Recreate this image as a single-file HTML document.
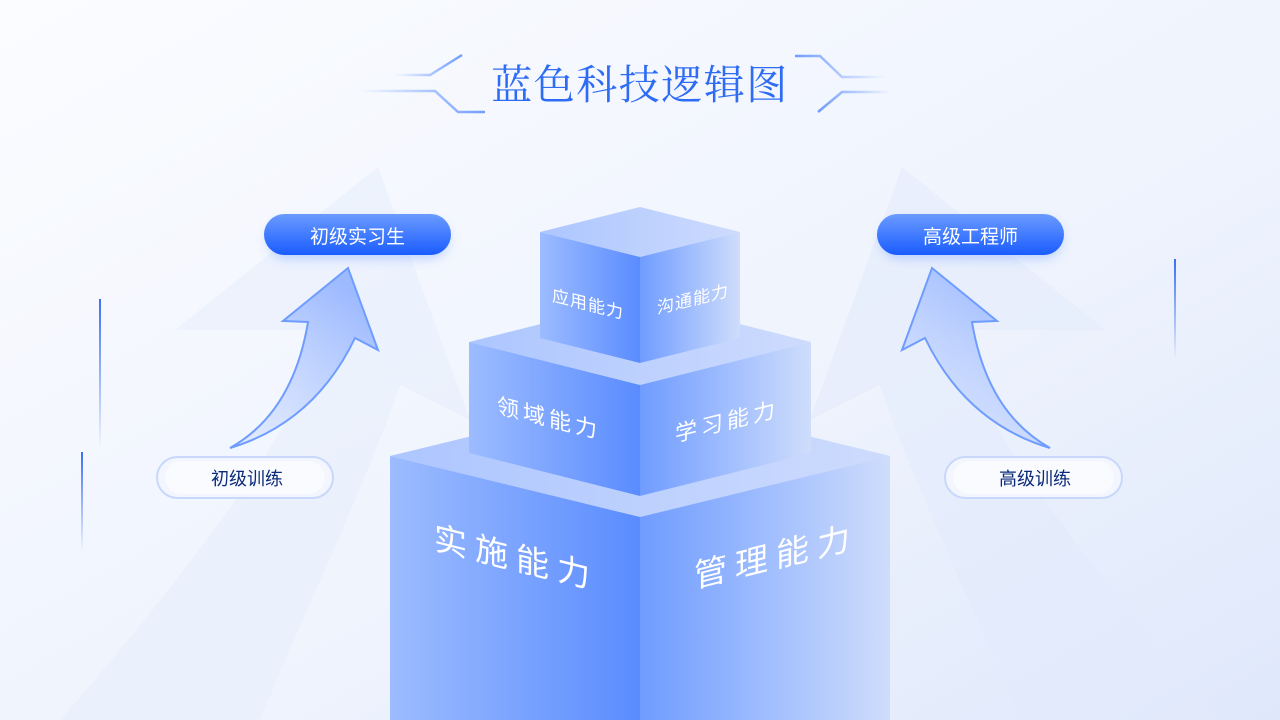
<!DOCTYPE html>
<html><head><meta charset="utf-8"><style>
html,body{margin:0;padding:0;width:1280px;height:720px;overflow:hidden;background:#f3f6fd}
svg{display:block}
text{font-family:"Liberation Sans","Noto Sans CJK SC",sans-serif}
</style></head><body>
<svg width="1280" height="720" viewBox="0 0 1280 720" xmlns="http://www.w3.org/2000/svg">
<defs>
<linearGradient id="bg" x1="0" y1="0" x2="1" y2="1"><stop offset="0" stop-color="#fbfcff"/><stop offset="0.6" stop-color="#eef3fd"/><stop offset="1" stop-color="#dfe8fb"/></linearGradient>
<linearGradient id="lf" x1="0" y1="0" x2="1" y2="0"><stop offset="0" stop-color="#9dbcff"/><stop offset="1" stop-color="#5a8cff"/></linearGradient>
<linearGradient id="rf" x1="0" y1="0" x2="1" y2="0"><stop offset="0" stop-color="#6f9cff"/><stop offset="1" stop-color="#cfddfc"/></linearGradient>
<linearGradient id="tf" x1="0" y1="0" x2="1" y2="0"><stop offset="0" stop-color="#adc6ff"/><stop offset="1" stop-color="#cddbfd"/></linearGradient>
<linearGradient id="pill" x1="0" y1="0" x2="0" y2="1"><stop offset="0" stop-color="#6b9bff"/><stop offset="1" stop-color="#1a5cff"/></linearGradient>
<linearGradient id="arr" x1="0" y1="1" x2="0.6" y2="0"><stop offset="0" stop-color="#dbe6ff" stop-opacity="0.6"/><stop offset="1" stop-color="#9dbaff"/></linearGradient>
<linearGradient id="vl" x1="0" y1="0" x2="0" y2="1"><stop offset="0" stop-color="#3a70f0"/><stop offset="1" stop-color="#3a70f0" stop-opacity="0"/></linearGradient>
<linearGradient id="hl" x1="0" y1="0" x2="1" y2="0"><stop offset="0" stop-color="#6f9cff" stop-opacity="0"/><stop offset="1" stop-color="#6f9cff"/></linearGradient>
<linearGradient id="hr" x1="1" y1="0" x2="0" y2="0"><stop offset="0" stop-color="#6f9cff" stop-opacity="0"/><stop offset="1" stop-color="#6f9cff"/></linearGradient>
<filter id="sh" x="-30%" y="-50%" width="160%" height="220%"><feGaussianBlur stdDeviation="6"/></filter>
</defs>
<rect width="1280" height="720" fill="url(#bg)"/>
<path d="M60,720 C200,560 300,420 330,330 L175,330 L378,167 L470,420 L400,385 C360,500 300,620 260,720 Z" fill="#e6eefc" opacity="0.5"/>
<path d="M1220,720 C1080,560 980,420 950,330 L1105,330 L902,167 L810,420 L880,385 C920,500 980,620 1020,720 Z" fill="#e2eafb" opacity="0.5"/>
<rect x="99" y="299" width="2" height="150" fill="url(#vl)"/>
<rect x="81" y="452" width="2" height="100" fill="url(#vl)"/>
<line x1="63" y1="380" x2="63" y2="478" stroke="url(#vl)" stroke-width="2" stroke-dasharray="1.5,1.5"/>
<rect x="1174" y="259" width="2" height="100" fill="url(#vl)"/>
<line x1="1202" y1="350" x2="1202" y2="448" stroke="url(#vl)" stroke-width="2" stroke-dasharray="1.5,1.5"/>
<g fill="none" stroke-width="2.5">
<path d="M395,75 L430,75 L462,55" stroke="url(#hl)"/>
<path d="M360,91 L435,91 L458,112 L485,112" stroke="url(#hl)"/>
<path d="M382,98 L430,98" stroke="url(#hl)"/>
<path d="M885,77 L842,77 L820,56 L795,56" stroke="url(#hr)"/>
<path d="M925,77 L860,77" stroke="url(#hr)"/>
<path d="M890,92 L842,92 L818,112" stroke="url(#hr)"/>
</g>
<text x="640" y="99" text-anchor="middle" font-size="41" fill="#2e6cf5" style="font-family:'Liberation Serif','Noto Serif CJK SC',serif" letter-spacing="1.5">蓝色科技逻辑图</text>
<path d="M230,448 C280,420 300,370 308,322 L283,321 L348,268 L378,350 L355,338 C330,390 290,430 230,448 Z" fill="url(#arr)" stroke="#6f9cff" stroke-width="2"/>
<path d="M1050,448 C1000,420 980,370 972,322 L997,321 L932,268 L902,350 L925,338 C950,390 990,430 1050,448 Z" fill="url(#arr)" stroke="#6f9cff" stroke-width="2"/>
<rect x="268" y="222" width="180" height="36" rx="18" fill="#6f9cff" opacity="0.45" filter="url(#sh)"/>
<rect x="264" y="214" width="187" height="41" rx="20.5" fill="url(#pill)"/>
<text x="357.5" y="243" text-anchor="middle" font-size="19" fill="#fff">初级实习生</text>
<rect x="881" y="222" width="180" height="36" rx="18" fill="#6f9cff" opacity="0.45" filter="url(#sh)"/>
<rect x="877" y="214" width="187" height="41" rx="20.5" fill="url(#pill)"/>
<text x="970.5" y="243" text-anchor="middle" font-size="19" fill="#fff">高级工程师</text>
<rect x="157" y="457" width="176" height="41" rx="20.5" fill="#f3f6fe" stroke="#c8d8fb" stroke-width="2"/>
<rect x="165" y="461" width="160" height="33" rx="16.5" fill="#f9fbff"/>
<text x="247" y="485" text-anchor="middle" font-size="18" fill="#0c2a7a">初级训练</text>
<rect x="945" y="457" width="177" height="41" rx="20.5" fill="#f3f6fe" stroke="#c8d8fb" stroke-width="2"/>
<rect x="953" y="461" width="161" height="33" rx="16.5" fill="#f9fbff"/>
<text x="1035" y="485" text-anchor="middle" font-size="18" fill="#0c2a7a">高级训练</text>
<polygon points="390,456 640,395 890,456 640,517" fill="url(#tf)"/>
<polygon points="390,456 640,517 640,720 390,720" fill="url(#lf)"/>
<polygon points="640,517 890,456 890,720 640,720" fill="url(#rf)"/>
<polygon points="469,342 640,299 811,342 640,385" fill="url(#tf)"/>
<polygon points="469,342 640,385 640,496 469,453" fill="url(#lf)"/>
<polygon points="640,385 811,342 811,453 640,496" fill="url(#rf)"/>
<polygon points="540,232 640,207 740,232 640,257" fill="url(#tf)"/>
<polygon points="540,232 640,257 640,363 540,338" fill="url(#lf)"/>
<polygon points="640,257 740,232 740,338 640,363" fill="url(#rf)"/>
<g fill="#fff">
<text transform="translate(552,301) skewY(14)" font-size="17" letter-spacing="1">应用能力</text>
<text transform="translate(657,314) skewY(-14)" font-size="17" letter-spacing="1">沟通能力</text>
<text transform="translate(497,413) skewY(14)" font-size="22" letter-spacing="4">领域能力</text>
<text transform="translate(675,442) skewY(-14)" font-size="22" letter-spacing="4">学习能力</text>
<text transform="translate(434,549) skewY(14)" font-size="33" letter-spacing="8">实施能力</text>
<text transform="translate(694,588) skewY(-14)" font-size="33" letter-spacing="8">管理能力</text>
</g>
</svg>
</body></html>
